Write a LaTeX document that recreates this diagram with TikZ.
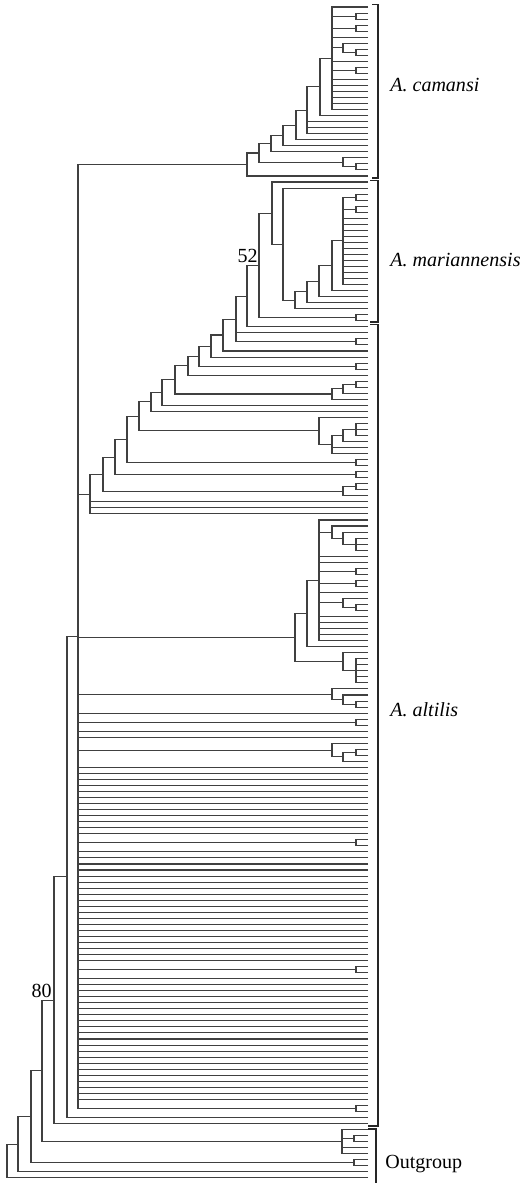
\documentclass[tikz,border=0pt]{standalone}
\usepackage{fontspec}
\setmainfont{Liberation Serif}
\usetikzlibrary{calc}

% 系統樹の分岐：名前, x座標, 子のリスト（上から順）
\newcommand{\clade}[3]{%
  \gdef\cfirst{}%
  \foreach \kid in {#3}{\ifx\cfirst\empty\xdef\cfirst{\kid}\fi\xdef\clast{\kid}}%
  \coordinate (cmid) at ($(\cfirst)!0.5!(\clast)$);%
  \coordinate (#1) at (#2,0 |- cmid);%
  \foreach \kid in {#3}{\draw[branch] (\kid) -- (\kid -| #1) -- (#1);}%
}

\begin{document}
\begin{tikzpicture}[x=0.02cm,y=-0.02cm,
  branch/.style={line width=0.6pt,draw=black!75},
  bracket/.style={line width=1.1pt,draw=black!85},
  lab/.style={inner sep=0pt,font=\fontsize{11.4}{13}\selectfont}]
  \useasboundingbox (0,0) rectangle (525,1183);
  \foreach \i in {0,...,194} \coordinate (L\i) at (368,{7+6.035*\i}); % 葉の位置
  % A. camansi
  \clade{q1}{356}{L1,L2}
  \clade{q3}{356}{L3,L4}
  \clade{q7}{356}{L7,L8}
  \clade{ca0}{343}{L6,q7}
  \clade{q10}{356}{L10,L11}
  \clade{caA}{332}{L0,q1,q3,L5,ca0,L9,q10,L12,L13,L14,L15,L16,L17}
  \clade{caB}{320}{caA,L18}
  \clade{caC}{307}{caB,L19,L20,L21}
  \clade{caD}{296}{caC,L22}
  \clade{caE}{283}{caD,L23}
  \clade{caF}{271}{caE,L24}
  \clade{q26}{356}{L26,L27}
  \clade{caG}{343}{L25,q26}
  \clade{caH}{259}{caF,caG}
  \clade{caI}{247}{caH,L28}
  % A. mariannensis
  \clade{q31}{356}{L31,L32}
  \clade{q33}{356}{L33,L34}
  \clade{ma3}{343}{q31,q33,L35,L36,L37,L38,L39,L40,L41,L42,L43,L44,L45,L46}
  \clade{ma4}{332}{ma3,L47}
  \clade{ma5}{319}{ma4,L48}
  \clade{ma6}{307}{ma5,L49}
  \clade{ma7}{295}{ma6,L50}
  \clade{ma2}{283}{L30,ma7}
  \clade{ma1}{272}{L29,ma2}
  \clade{q51}{356}{L51,L52}
  \clade{ma8}{259}{ma1,q51}
  \clade{ma9}{247}{ma8,L53}
  \node[lab,anchor=base east] (bs52) at ([shift={(-1,-2.5)}]ma8) {52}; % ブートストラップ値
  % A. altilis（上部の階段状の部分）
  \clade{q55}{356}{L55,L56}
  \clade{al1}{236}{ma9,L54,q55}
  \clade{al2}{223}{al1,L57}
  \clade{al3}{211}{al2,L58}
  \clade{q59}{356}{L59,L60}
  \clade{al4}{199}{al3,q59}
  \clade{al5}{188}{al4,L61}
  \clade{q62}{356}{L62,L63}
  \clade{qq2}{343}{q62,L64}
  \clade{qq1}{332}{qq2,L65}
  \clade{al6}{175}{al5,qq1}
  \clade{al7}{162}{al6,L66}
  \clade{al8}{151}{al7,L67}
  \clade{s3}{356}{L69,L70,L71}
  \clade{s2}{343}{s3,L72}
  \clade{s1}{332}{s2,L73,L74}
  \clade{r1}{319}{L68,s1}
  \clade{al9}{139}{al8,r1}
  \clade{q75}{356}{L75,L76}
  \clade{al10}{127}{al9,q75}
  \clade{q77}{356}{L77,L78}
  \clade{al11}{115}{al10,q77}
  \clade{q79}{356}{L79,L80}
  \clade{t1}{343}{q79,L81}
  \clade{al12}{103}{al11,t1}
  \clade{al13}{90}{al12,L82,L83,L84}
  % A. altilis（中央の大きな分岐）
  \clade{v3}{356}{L88,L89,L90}
  \clade{v2}{343}{L87,v3}
  \clade{v1}{332}{L86,v2}
  \clade{q93}{356}{L93,L94}
  \clade{q95}{356}{L95,L96}
  \clade{q99}{356}{L99,L100}
  \clade{w1}{343}{L98,q99}
  \clade{u1}{319}{L85,v1,L91,L92,q93,q95,L97,w1,L101,L102,L103,L104,L105}
  \clade{u2}{307}{u1,L106}
  \clade{x2}{356}{L108,L109,L110,L111,L112}
  \clade{x1}{343}{L107,x2}
  \clade{u3}{295}{u2,x1}
  % A. altilis（下部の櫛状の部分）
  \clade{q115}{356}{L115,L116}
  \clade{y2}{343}{L114,q115}
  \clade{y1}{332}{L113,y2}
  \clade{q118}{356}{L118,L119}
  \clade{q123}{356}{L123,L124}
  \clade{z2}{343}{q123,L125}
  \clade{z1}{332}{L122,z2}
  \clade{q138}{356}{L138,L139}
  \clade{q159}{356}{L159,L160}
  \clade{q182}{356}{L182,L183}
  \clade{a0}{78}{caI,al13,u3,y1,L117,q118,L120,L121,z1,q138,q159,q182}
  \foreach \i in {126,...,137} \draw[branch] (L\i) -- (L\i -| a0);
  \foreach \i in {140,...,158} \draw[branch] (L\i) -- (L\i -| a0);
  \foreach \i in {161,...,181} \draw[branch] (L\i) -- (L\i -| a0);
  % 根元と外群
  \clade{b0}{67}{a0,L184}
  \clade{c0}{54}{b0,L185}
  \node[lab,anchor=base east] (bs80) at ([shift={(-2,-2.5)}]c0) {80}; % ブートストラップ値
  \clade{q187}{354}{L187,L188}
  \clade{og}{342}{L186,q187,L189,L190}
  \clade{d0}{42}{c0,og}
  \clade{q191}{354}{L191,L192}
  \clade{e0}{31}{d0,q191}
  \clade{f0}{18}{e0,L193}
  \clade{rt}{7}{f0,L194}
  % 右側の括弧とラベル
  \draw[bracket] (372,4.5) -- (378,4.5) -- (378,178) -- (372,178); % camansi
  \draw[bracket] (370,180.5) -- (378,180.5) -- (378,322) -- (370,322); % mariannensis
  \draw[bracket] (370,324.5) -- (378,324.5) -- (378,1126) -- (368,1126); % altilis
  \draw[bracket] (368,1129) -- (376,1129) -- (376,1183); % outgroup
  \node[lab,anchor=base west] (cam) at (390,91.7) {\textit{A. camansi}};
  \node[lab,anchor=base west] (mar) at (390,266.7) {\textit{A. mariannensis}};
  \node[lab,anchor=base west] (alt) at (390,716.7) {\textit{A. altilis}};
  \node[lab,anchor=base west] (out) at (385,1168) {Outgroup};
\end{tikzpicture}
\end{document}
